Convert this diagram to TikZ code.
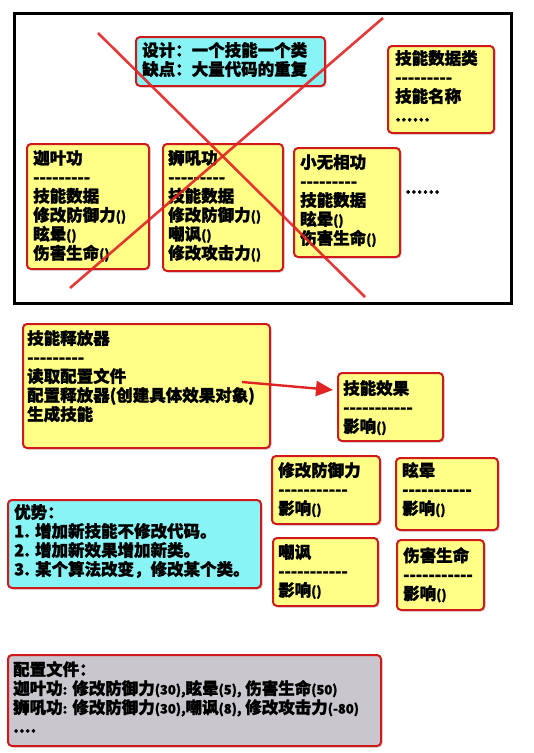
\documentclass[tikz,border=0pt]{standalone}
\usepackage{fontspec}
\setmainfont{Noto Sans CJK SC}[BoldFeatures={FakeBold=1.5}]
\usetikzlibrary{shadows,arrows.meta}
\definecolor{boxred}{HTML}{D0191B}
\definecolor{xred}{HTML}{E02424}
\definecolor{byellow}{HTML}{FFFF88}
\definecolor{bcyan}{HTML}{88F4F6}
\definecolor{bgray}{HTML}{C9C6CD}
\newcommand\dashnine{-\kern0pt-\kern0pt-\kern0pt-\kern0pt-\kern0pt-\kern0pt-\kern0pt-\kern0pt-}
\newcommand\dasheleven{-\kern0pt-\kern0pt-\kern0pt-\kern0pt-\kern0pt-\kern0pt-\kern0pt-\kern0pt-\kern0pt-\kern0pt-}
\newcommand\smlat[1]{{\fontsize{13}{19}\selectfont #1}}
\begin{document}
\begin{tikzpicture}[x=1pt,y=-1pt,
  basebox/.style={draw=boxred, line width=2pt, rounded corners=4pt, anchor=north west, inner sep=0pt,
    drop shadow={opacity=0.35, shadow xshift=1.5pt, shadow yshift=-1.5pt}},
  ybox/.style={basebox, fill=byellow},
  cbox/.style={basebox, fill=bcyan},
  gbox/.style={basebox, fill=bgray},
  txt/.style={anchor=north west, inner sep=0pt, align=left, font=\fontsize{16.5}{19}\selectfont\bfseries},
  crossline/.style={draw=xred, line width=2.6pt, opacity=0.9},
  relarrow/.style={draw=xred, line width=2.4pt, -{Triangle[length=17pt,width=15pt]}}
]
\useasboundingbox (0,0) rectangle (534,753);
\fill[white] (0,0) rectangle (534,753);

% frame
\node[draw=black, line width=3pt, anchor=north west, inner sep=0pt, minimum width=497pt, minimum height=290pt,
  drop shadow={opacity=0.25, shadow xshift=1.5pt, shadow yshift=-1.5pt}, fill=white] (frame) at (13,12) {};

% top boxes
\node[cbox, minimum width=189pt, minimum height=49pt] (design) at (135,36) {};
\node[txt] (designT) at (142,42) {设计：一个技能一个类\\缺点：大量代码的重复};

\node[ybox, minimum width=106pt, minimum height=87pt] (data) at (387,45) {};
\node[txt] (dataT) at (395,50) {技能数据类\\\dashnine\\技能名称\\......};

\node[ybox, minimum width=122pt, minimum height=125pt] (jyg) at (26,143) {};
\node[txt] (jygT) at (33,150) {迦叶功\\\dashnine\\技能数据\\修改防御力\smlat{()}\\眩晕\smlat{()}\\伤害生命\smlat{()}};

\node[ybox, minimum width=120pt, minimum height=127pt] (shg) at (162,143) {};
\node[txt] (shgT) at (168,150) {狮吼功\\\dashnine\\技能数据\\修改防御力\smlat{()}\\嘲讽\smlat{()}\\修改攻击力\smlat{()}};

\node[ybox, minimum width=106pt, minimum height=109pt] (xwx) at (293,147) {};
\node[txt] (xwxT) at (300,154) {小无相功\\\dashnine\\技能数据\\眩晕\smlat{()}\\伤害生命\smlat{()}};

\node[txt] (more) at (405,190) {......};

% red cross
\coordinate (xa1) at (98,33);
\coordinate (xa2) at (365,297);
\coordinate (xb1) at (383,18);
\coordinate (xb2) at (70,288);
\draw[crossline] (xa1) -- (xa2);
\draw[crossline] (xb1) -- (xb2);

% releaser
\node[ybox, minimum width=247pt, minimum height=124pt] (rel) at (22,323) {};
\node[txt] (relT) at (27,330) {技能释放器\\\dashnine\\读取配置文件\\配置释放器(创建具体效果对象)\\生成技能};

\node[ybox, minimum width=105pt, minimum height=68pt] (eff) at (337,372) {};
\node[txt] (effT) at (343,380) {技能效果\\\dasheleven\\影响\smlat{()}};

\coordinate (arrS) at (242,382);
\coordinate (arrE) at (333,390);
\draw[relarrow] (arrS) -- (arrE);

% effect boxes
\node[ybox, minimum width=108pt, minimum height=68pt] (e1) at (271,455) {};
\node[txt] (e1T) at (278,462) {修改防御力\\\dasheleven\\影响\smlat{()}};

\node[ybox, minimum width=102pt, minimum height=72pt] (e2) at (395,457) {};
\node[txt] (e2T) at (402,462) {眩晕\\\dasheleven\\影响\smlat{()}};

\node[ybox, minimum width=105pt, minimum height=68pt] (e3) at (272,537) {};
\node[txt] (e3T) at (278,544) {嘲讽\\\dasheleven\\影响\smlat{()}};

\node[ybox, minimum width=87pt, minimum height=70pt] (e4) at (396,539) {};
\node[txt] (e4T) at (403,547) {伤害生命\\\dasheleven\\影响\smlat{()}};

% advantages
\node[cbox, minimum width=253pt, minimum height=88pt] (adv) at (7,499) {};
\node[txt] (advT) at (14,504) {优势：\\1. 增加新技能不修改代码。\\2. 增加新效果增加新类。\\3. 某个算法改变，修改某个类。};

% config
\node[gbox, minimum width=373pt, minimum height=91pt] (cfg) at (7,654) {};
\node[txt] (cfgT) at (13,661) {配置文件：\\迦叶功\smlat{:} 修改防御力\smlat{(30),}眩晕\smlat{(5),} 伤害生命\smlat{(50)}\\狮吼功\smlat{:} 修改防御力\smlat{(30),}嘲讽\smlat{(8),} 修改攻击力\smlat{(-80)}\\....};
\end{tikzpicture}
\end{document}
